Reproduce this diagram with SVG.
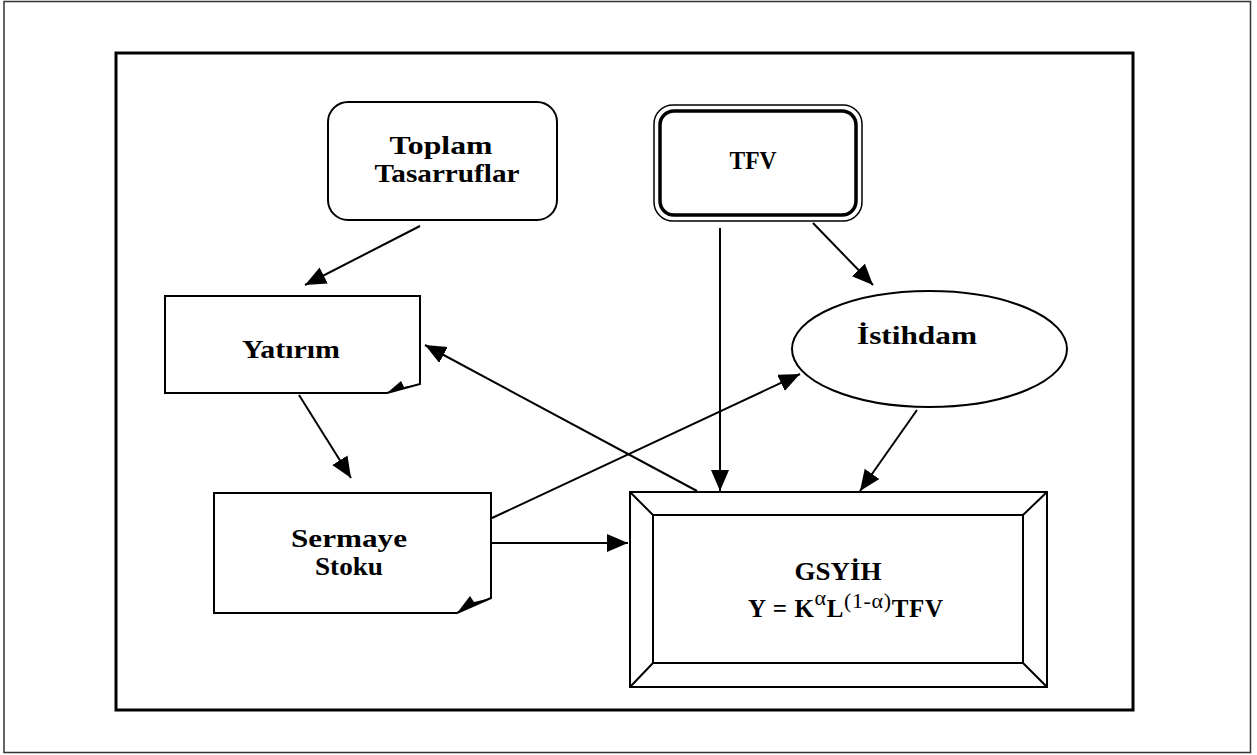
<svg xmlns="http://www.w3.org/2000/svg" width="1257" height="755" viewBox="0 0 1257 755">
<style>
.box{fill:#fff;stroke:#000;stroke-width:2}
.t{font-family:"Liberation Serif","Times New Roman",serif;font-weight:bold;font-size:25px;fill:#000;text-anchor:middle}
.f{font-family:"Liberation Serif","Times New Roman",serif;font-weight:bold;font-size:25px;fill:#000}
.sup{font-weight:normal;font-size:22px}
.c{stroke:#000;stroke-width:2;fill:none;marker-end:url(#ah)}
</style>
<defs>
<marker id="ah" markerUnits="userSpaceOnUse" markerWidth="22" markerHeight="20" refX="21" refY="9" orient="auto">
<path d="M0,0 L21,9 L0,18 Z" fill="#000"/>
</marker>
</defs>
<rect x="0" y="0" width="1257" height="755" fill="#fff"/>
<rect id="outer-border" x="4" y="1.5" width="1246.5" height="751" fill="none" stroke="#333" stroke-width="1.5"/>
<rect id="frame" x="116" y="53" width="1017" height="657" fill="none" stroke="#000" stroke-width="3"/>

<g id="toplam">
<rect class="box" x="328" y="102" width="229" height="118" rx="20"/>
<text class="t" x="441" y="154" textLength="103" lengthAdjust="spacingAndGlyphs">Toplam</text>
<text class="t" x="447" y="182" textLength="145" lengthAdjust="spacingAndGlyphs">Tasarruflar</text>
</g>

<g id="tfv">
<rect x="654" y="105" width="208" height="116" rx="19" fill="#fff" stroke="#000" stroke-width="1.5"/>
<rect x="660" y="111" width="196" height="104" rx="14" fill="#fff" stroke="#000" stroke-width="3.5"/>
<text class="t" x="753" y="169" textLength="47" lengthAdjust="spacingAndGlyphs">TFV</text>
</g>

<g id="yatirim">
<path class="box" d="M165,296 H420 V384 L387,393 H165 Z"/>
<polygon points="387,393 420,384 404,387 401,381" fill="#000"/>
<text class="t" x="291" y="358" textLength="98" lengthAdjust="spacingAndGlyphs">Yatırım</text>
</g>

<g id="istihdam">
<ellipse class="box" cx="929.5" cy="349" rx="137.5" ry="58"/>
<text class="t" x="917" y="344" textLength="120" lengthAdjust="spacingAndGlyphs">İstihdam</text>
</g>

<g id="sermaye">
<path class="box" d="M214,493 H491 V598 L457,613 H214 Z"/>
<polygon points="457,613 491,598 474,602 470,596" fill="#000"/>
<text class="t" x="349" y="547" textLength="116" lengthAdjust="spacingAndGlyphs">Sermaye</text>
<text class="t" x="349" y="575" textLength="68" lengthAdjust="spacingAndGlyphs">Stoku</text>
</g>

<g id="gsyih">
<rect class="box" x="630" y="492" width="417" height="195"/>
<rect class="box" x="653" y="515" width="370" height="148"/>
<path d="M630,492 L653,515 M1047,492 L1023,515 M630,687 L653,663 M1047,687 L1023,663" stroke="#000" stroke-width="2"/>
<text class="t" x="838" y="580" textLength="87" lengthAdjust="spacingAndGlyphs">GSYİH</text>
<text class="f" x="748" y="617" textLength="195" lengthAdjust="spacing">Y = K<tspan class="sup" dy="-12">α</tspan><tspan dy="12">L</tspan><tspan class="sup" dy="-9">(1-α)</tspan><tspan dy="9">TFV</tspan></text>
</g>

<g id="connectors">
<line class="c" x1="420" y1="226" x2="305" y2="285"/>
<line class="c" x1="813" y1="223" x2="873" y2="285"/>
<line class="c" x1="720" y1="228" x2="720" y2="491"/>
<line class="c" x1="917" y1="410" x2="860" y2="491"/>
<line class="c" x1="299" y1="395" x2="351" y2="478"/>
<line class="c" x1="697" y1="491" x2="425" y2="345"/>
<line class="c" x1="492" y1="518" x2="800" y2="374"/>
<line class="c" x1="492" y1="543" x2="628" y2="543"/>
</g>
</svg>
